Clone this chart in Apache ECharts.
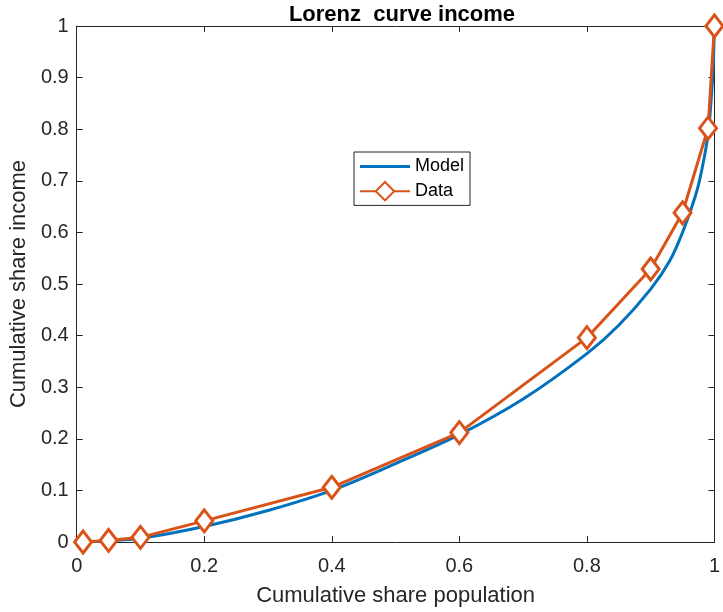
<!DOCTYPE html>
<html>
<head>
<meta charset="utf-8">
<script src="https://cdn.jsdelivr.net/npm/echarts@6/dist/echarts.min.js"></script>
<style>
  html, body { margin: 0; padding: 0; background: #fff; }
  #chart { width: 723px; height: 612px; }
</style>
</head>
<body>
<div id="chart"></div>
<script>
// Observed Lorenz points (population share, income share)
const popShareData = [0.01, 0.05, 0.1, 0.2, 0.4, 0.6, 0.8, 0.9, 0.95, 0.99, 1.0];
const incomeShareData = [0, 0.003, 0.009, 0.041, 0.106, 0.212, 0.396, 0.529, 0.638, 0.802, 1.0];

// Model Lorenz curve
const popShareModel = [0, 0.05, 0.1, 0.2, 0.3, 0.4, 0.5, 0.6, 0.7, 0.8, 0.85, 0.9, 0.93, 0.95, 0.97, 0.98, 0.99, 0.995, 0.998, 1];
const incomeShareModel = [0, 0.002, 0.007, 0.030, 0.061, 0.100, 0.152, 0.208, 0.277, 0.365, 0.42, 0.49, 0.545, 0.60, 0.67, 0.72, 0.79, 0.86, 0.92, 1];

const seriesNames = ['Model', 'Data'];
const titleText = 'Lorenz  curve income';
const xTitle = 'Cumulative share population';
const yTitle = 'Cumulative share income';

const pair = (xs, ys) => xs.map((x, i) => [x, ys[i]]);

const axisColor = '#262626';
const font = 'Liberation Sans, Arial, Helvetica, sans-serif';

// Plain line legend key (corner moves keep the bar thin and centred)
const lineKeyIcon = 'path://M0,0M50,23M0,10L50,10L50,13L0,13Z';

const chart = echarts.init(document.getElementById('chart'), null, { renderer: 'canvas' });

const baseAxis = {
  type: 'value', min: 0, max: 1,
  axisLine: { show: true, onZero: false, lineStyle: { color: axisColor, width: 1 } },
  axisTick: { show: true, inside: true, length: 6, lineStyle: { color: axisColor, width: 1 } },
  splitLine: { show: false },
  axisLabel: { color: axisColor, fontFamily: font, fontSize: 20 }
};

chart.setOption({
  animation: false,
  backgroundColor: '#fff',
  title: {
    text: titleText, left: 397, top: -1, textAlign: 'center',
    textStyle: { fontFamily: font, fontWeight: 'bold', fontSize: 22, color: '#000' }
  },
  grid: { left: 74.5, right: 3, top: 26, bottom: 69, containLabel: false },
  legend: {
    data: [
      { name: seriesNames[0], icon: lineKeyIcon },
      { name: seriesNames[1] }
    ],
    orient: 'vertical', left: 354, top: 152,
    backgroundColor: '#fff', borderColor: axisColor, borderWidth: 1,
    padding: [3, 6, 4, 5], itemGap: 3, itemWidth: 50, itemHeight: 23,
    textStyle: { fontFamily: font, fontSize: 18, color: '#000' }
  },
  xAxis: [
    Object.assign({}, baseAxis, {
      position: 'bottom', interval: 0.2,
      name: xTitle, nameLocation: 'middle', nameGap: 43,
      nameTextStyle: { fontFamily: font, fontSize: 22, color: axisColor },
      axisLabel: Object.assign({}, baseAxis.axisLabel, { margin: 14 })
    }),
    Object.assign({}, baseAxis, {
      position: 'top', interval: 0.2, axisLabel: { show: false }
    })
  ],
  yAxis: [
    Object.assign({}, baseAxis, {
      position: 'left', interval: 0.1,
      name: yTitle, nameLocation: 'middle', nameGap: 38,
      nameTextStyle: { fontFamily: font, fontSize: 22, color: axisColor },
      axisLabel: Object.assign({}, baseAxis.axisLabel, { margin: 8 })
    }),
    Object.assign({}, baseAxis, {
      position: 'right', interval: 0.1, axisLabel: { show: false }
    })
  ],
  series: [
    {
      name: seriesNames[0], type: 'line', xAxisIndex: 0, yAxisIndex: 0,
      data: pair(popShareModel, incomeShareModel),
      smooth: 0.3, showSymbol: false, symbol: 'none', clip: false,
      lineStyle: { color: '#0072BD', width: 3 },
      itemStyle: { color: '#0072BD' }, z: 2
    },
    {
      name: seriesNames[1], type: 'line', xAxisIndex: 0, yAxisIndex: 0,
      data: pair(popShareData, incomeShareData),
      symbol: 'diamond', symbolSize: [17, 22], showSymbol: true, clip: false,
      lineStyle: { color: '#D95319', width: 3 },
      itemStyle: { color: '#fff', borderColor: '#D95319', borderWidth: 3 }, z: 3
    }
  ]
});
</script>
</body>
</html>
